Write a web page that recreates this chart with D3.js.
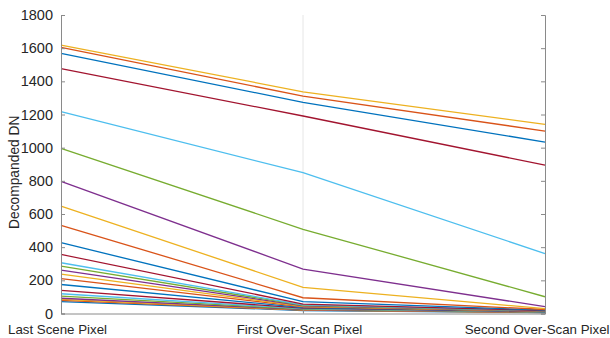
<!DOCTYPE html>
<html>
<head>
<meta charset="utf-8">
<script src="https://cdn.jsdelivr.net/npm/d3@7"></script>
<style>
  body { margin: 0; background: #fff; }
  svg text { font-family: "Liberation Sans", Arial, sans-serif; fill: #262626; }
</style>
</head>
<body>
<div id="chart"></div>
<script>
// categories on x
var categories = ["Last Scene Pixel", "First Over-Scan Pixel", "Second Over-Scan Pixel"];

// one series per line, bottom to top (values at the 3 categories)
var s1  = [72, 18, 5];
var s2  = [79, 20, 6];
var s3  = [85, 22, 7];
var s4  = [92, 24, 8];
var s5  = [105, 26, 9];
var s6  = [119, 29, 10];
var s7  = [139, 32, 11];
var s8  = [175, 36, 12];
var s9  = [210, 40, 13];
var s10 = [237, 43, 14];
var s11 = [262, 46, 15];
var s12 = [286, 49, 16];
var s13 = [306, 52, 17];
var s14 = [356, 57, 18];
var s15 = [427, 71, 20];
var s16 = [532, 95, 24];
var s17 = [648, 158, 29];
var s18 = [797, 268, 41];
var s19 = [996, 508, 101];
var s20 = [1217, 849, 361];
var s21 = [1476, 1191, 895];
var s22 = [1569, 1273, 1034];
var s23 = [1605, 1311, 1100];
var s24 = [1619, 1337, 1141];
var series = [s1, s2, s3, s4, s5, s6, s7, s8, s9, s10, s11, s12,
              s13, s14, s15, s16, s17, s18, s19, s20, s21, s22, s23, s24];

var yTicks = [0, 200, 400, 600, 800, 1000, 1200, 1400, 1600, 1800];
var colors = ["#0072BD", "#D95319", "#EDB120", "#7E2F8E", "#77AC30", "#4DBEEE", "#A2142F"];

var width = 610, height = 338;
var margin = { top: 15, right: 65, bottom: 24.5, left: 61 };
var innerW = width - margin.left - margin.right;
var innerH = height - margin.top - margin.bottom;

var svg = d3.select("#chart").append("svg")
    .attr("width", width)
    .attr("height", height);

var g = svg.append("g")
    .attr("transform", "translate(" + margin.left + "," + margin.top + ")");

var x = d3.scalePoint()
    .domain(categories)
    .range([0, innerW]);

var y = d3.scaleLinear()
    .domain([0, 1800])
    .range([innerH, 0]);

var axisColor = "#8a8a8a";

// light vertical grid at the middle category
g.append("line")
    .attr("x1", x(categories[1])).attr("x2", x(categories[1]))
    .attr("y1", 0).attr("y2", innerH)
    .attr("stroke", "#e6e6e6").attr("stroke-width", 1);

// lines
var line = d3.line()
    .x(function(d, i) { return x(categories[i]); })
    .y(function(d) { return y(d); });

g.selectAll(".series")
    .data(series)
    .enter().append("path")
    .attr("class", "series")
    .attr("d", line)
    .attr("fill", "none")
    .attr("stroke", function(d, i) { return colors[i % colors.length]; })
    .attr("stroke-width", 1.3);

// axes
var yAxis = d3.axisLeft(y).tickValues(yTicks).tickSize(-4).tickPadding(8).tickFormat(d3.format("d"));
var yAxisR = d3.axisRight(y).tickValues(yTicks).tickSize(-4).tickFormat("");
var xAxis = d3.axisBottom(x).tickSize(-4).tickPadding(11);
var xAxisT = d3.axisTop(x).tickSize(-4).tickFormat("");

function styleAxis(sel) {
    sel.select(".domain").attr("stroke", axisColor);
    sel.selectAll(".tick line").attr("stroke", axisColor);
    sel.selectAll(".tick text").style("font-size", "14.5px").attr("fill", "#262626");
}

g.append("g").call(yAxis).call(styleAxis);
g.append("g").attr("transform", "translate(" + innerW + ",0)").call(yAxisR).call(styleAxis);
var xg = g.append("g").attr("transform", "translate(0," + innerH + ")").call(xAxis).call(styleAxis);
xg.selectAll(".tick text").attr("dx", -4).style("font-size", "13.3px");
// last label is flush with the right edge of the picture
xg.selectAll(".tick text").filter(function(d) { return d === categories[2]; })
    .attr("text-anchor", "end").attr("dx", 0).attr("x", width - margin.left - innerW - 1);

// y label
svg.append("text")
    .attr("transform", "translate(19," + (margin.top + innerH / 2 + 8) + ") rotate(-90)")
    .attr("text-anchor", "middle")
    .style("font-size", "13.8px")
    .text("Decompanded DN");
</script>
</body>
</html>
